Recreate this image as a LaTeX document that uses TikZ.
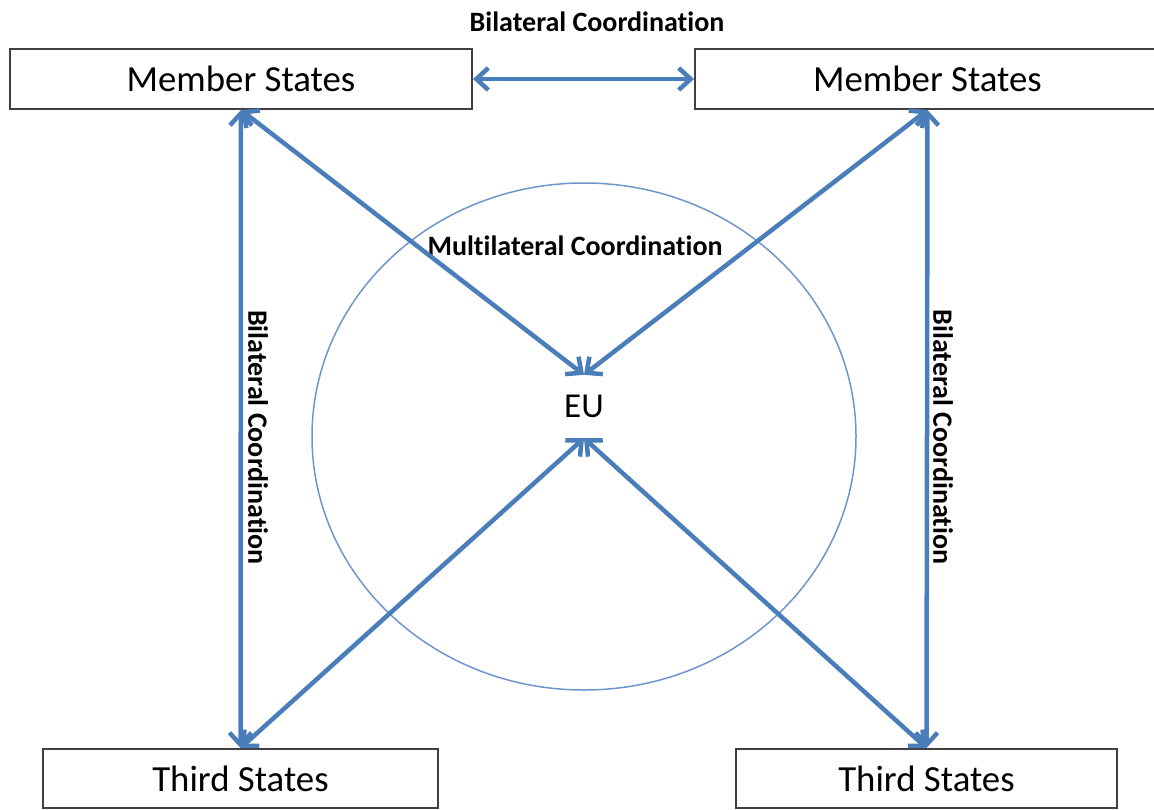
\documentclass[tikz,border=0pt]{standalone}
\usepackage{fontspec}
\setmainfont{Carlito}[Ligatures=NoCommon]
\usetikzlibrary{arrows.meta,shapes.misc}
\definecolor{linkblue}{RGB}{74,126,187}
\definecolor{ringblue}{RGB}{110,150,205}
\definecolor{boxgrey}{RGB}{64,64,64}
\tikzset{
  statebox/.style={draw=boxgrey,line width=2pt,rectangle,minimum height=60pt,inner sep=0pt,font=\fontsize{36.8}{44}\selectfont},
  link/.style={draw=linkblue,line width=4.5pt,{Straight Barb[length=12pt,width=22pt]}-{Straight Barb[length=12pt,width=22pt]}},
  coordlabel/.style={inner sep=0pt,font=\fontsize{28}{34}\selectfont\bfseries},
}
\begin{document}
\begin{tikzpicture}[x=1pt,y=-1pt]

\path[use as bounding box,clip] (0,0) rectangle (1154,809);
%\draw[help lines] (0,0) grid[step=100] (1154,809);

\draw[ringblue,line width=1.5pt] (584,436.5) ellipse (272 and 253.5);

\node[statebox,minimum width=462pt] (msleft) at (241,79) {Member States};
\node[statebox,minimum width=465pt] (msright) at (927.5,79) {Member States};
\node[statebox,minimum width=395pt,minimum height=59pt] (tsleft) at (240.5,778.5) {Third States};
\node[statebox,minimum width=381pt,minimum height=59pt] (tsright) at (926.5,778.5) {Third States};

\node[inner sep=0pt,minimum height=63pt,font=\fontsize{35}{42}\selectfont] (eu) at (584,406.5) {EU};

\node[coordlabel] (bitop) at (597,22) {Bilateral Coordination};
\node[coordlabel] (multi) at (575,246) {Multilateral Coordination};
\node[coordlabel,rotate=-90] (bileft) at (258,437.5) {Bilateral Coordination};
\node[coordlabel,rotate=-90] (biright) at (943,437) {Bilateral Coordination};

\draw[link] (msleft.east) -- (msright.west);
\draw[link] (msleft.south) -- (tsleft.north);
\draw[link] (msright.south) -- (tsright.north);
\draw[link] (msleft.south) -- (eu.north);
\draw[link] (msright.south) -- (eu.north);
\draw[link] (tsleft.north) -- (eu.south);
\draw[link] (tsright.north) -- (eu.south);

\end{tikzpicture}
\end{document}
